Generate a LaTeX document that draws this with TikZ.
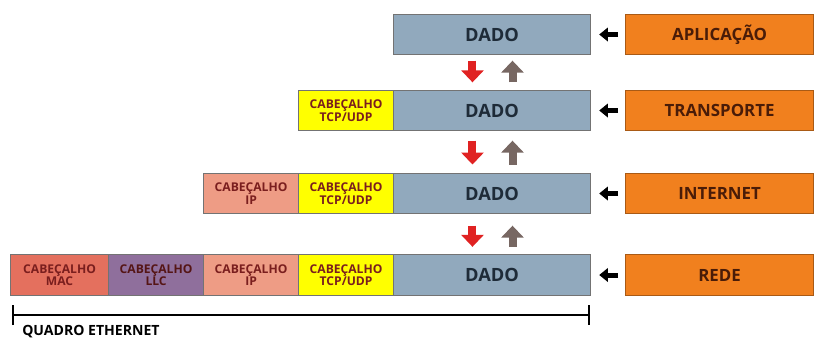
\documentclass[tikz,border=0pt]{standalone}
\usepackage{fontspec}
\setmainfont{Open Sans}
\usepackage{xcolor}
\usetikzlibrary{arrows.meta}

\definecolor{azuldado}{HTML}{91A9BD}
\definecolor{textodado}{HTML}{1E2B38}
\definecolor{laranja}{HTML}{F1801E}
\definecolor{textocamada}{HTML}{4A1C08}
\definecolor{amarelo}{HTML}{FFFF00}
\definecolor{salmao}{HTML}{EE9C85}
\definecolor{vermelhomac}{HTML}{E4705E}
\definecolor{roxollc}{HTML}{8F6F9C}
\definecolor{textocab}{HTML}{7A1E1E}
\definecolor{setavm}{HTML}{E02222}
\definecolor{setacz}{HTML}{776762}

\tikzset{
	bloco/.style={draw=black!55, line width=0.8pt, minimum height=1.02cm, inner sep=0pt, anchor=west},
	dado/.style={bloco, fill=azuldado, minimum width=4.925cm, text=textodado, font=\fontsize{13}{13}\selectfont\bfseries},
	camada/.style={bloco, fill=laranja, draw=laranja!70!black, minimum width=4.7cm, text=textocamada, font=\fontsize{12}{12}\selectfont\bfseries},
	cabecalho/.style={bloco, fill=#1, minimum width=2.375cm, align=center, text=textocab, font=\fontsize{8.6}{8.8}\selectfont\bfseries},
	setapreta/.style={line width=0.125cm, black, -{Triangle[width=0.34cm, length=0.22cm]}},
	setadesce/.style={line width=0.2cm, setavm, -{Triangle[width=0.55cm, length=0.3cm]}},
	setasobe/.style={line width=0.2cm, setacz, -{Triangle[width=0.55cm, length=0.3cm]}}
}

\begin{document}
\begin{tikzpicture}[x=0.025cm, y=-0.025cm]
	\useasboundingbox (0,0) rectangle (814,338);

	% Aplicacao
	\node[dado] (dado1) at (393,34.5) {DADO};
	\node[camada] (apl) at (625,34.5) {APLICAÇÃO};

	% Transporte
	\node[cabecalho=amarelo] (tcp2) at (298,110.5) {CABEÇALHO\\TCP/UDP};
	\node[dado] (dado2) at (393,110.5) {DADO};
	\node[camada] (tra) at (625,110.5) {TRANSPORTE};

	% Internet
	\node[cabecalho=salmao] (ip3) at (203,193.5) {CABEÇALHO\\IP};
	\node[cabecalho=amarelo] (tcp3) at (298,193.5) {CABEÇALHO\\TCP/UDP};
	\node[dado] (dado3) at (393,193.5) {DADO};
	\node[camada] (int) at (625,193.5) {INTERNET};

	% Rede
	\node[cabecalho=vermelhomac, minimum width=2.45cm] (mac4) at (10,275) {CABEÇALHO\\MAC};
	\node[cabecalho=roxollc, text=black!30!textocab] (llc4) at (108,275) {CABEÇALHO\\LLC};
	\node[cabecalho=salmao] (ip4) at (203,275) {CABEÇALHO\\IP};
	\node[cabecalho=amarelo] (tcp4) at (298,275) {CABEÇALHO\\TCP/UDP};
	\node[dado] (dado4) at (393,275) {DADO};
	\node[camada] (rede) at (625,275) {REDE};

	% Setas pretas
	\draw[setapreta, shorten <=0.175cm, shorten >=0.2cm] (apl) -- (dado1);
	\draw[setapreta, shorten <=0.175cm, shorten >=0.2cm] (tra) -- (dado2);
	\draw[setapreta, shorten <=0.175cm, shorten >=0.2cm] (int) -- (dado3);
	\draw[setapreta, shorten <=0.175cm, shorten >=0.2cm] (rede) -- (dado4);

	% Descendo e subindo
	\draw[setadesce, shorten <=0.13cm, shorten >=0.18cm] ([xshift=-0.49cm]dado1.south) -- ([xshift=-0.49cm]dado2.north);
	\draw[setasobe, shorten <=0.18cm, shorten >=0.13cm] ([xshift=0.51cm]dado2.north) -- ([xshift=0.51cm]dado1.south);

	\draw[setadesce, shorten <=0.23cm, shorten >=0.2cm] ([xshift=-0.49cm]dado2.south) -- ([xshift=-0.49cm]dado3.north);
	\draw[setasobe, shorten <=0.2cm, shorten >=0.23cm] ([xshift=0.51cm]dado3.north) -- ([xshift=0.51cm]dado2.south);

	\draw[setadesce, shorten <=0.28cm, shorten >=0.18cm] ([xshift=-0.49cm]dado3.south) -- ([xshift=-0.49cm]dado4.north);
	\draw[setasobe, shorten <=0.18cm, shorten >=0.28cm] ([xshift=0.51cm]dado4.north) -- ([xshift=0.51cm]dado3.south);

	% Quadro Ethernet
	\coordinate (qini) at (12,315);
	\coordinate (qfim) at (590,315);
	\draw[line width=1.5pt, {Bar[width=0.5cm]}-{Bar[width=0.5cm]}] (qini) -- (qfim);
	\node[anchor=base west, inner sep=0pt, font=\fontsize{10}{10}\selectfont\bfseries] (quadro) at (22,335) {QUADRO ETHERNET};
\end{tikzpicture}
\end{document}
